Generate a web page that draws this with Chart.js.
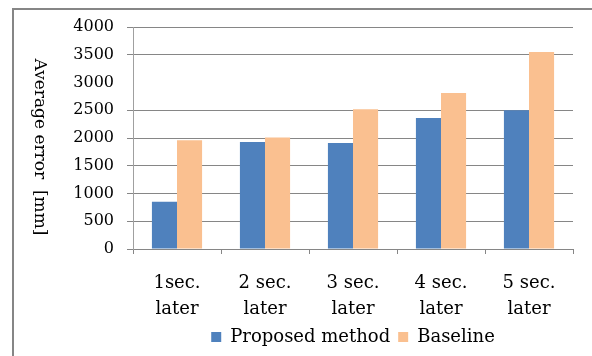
<!DOCTYPE html>
<html>
<head>
<meta charset="utf-8">
<script src="https://cdn.jsdelivr.net/npm/chart.js@4/dist/chart.umd.min.js"></script>
<style>
  html, body { margin: 0; padding: 0; background: #fff; }
  #wrap { width: 592px; height: 356px; }
</style>
</head>
<body>
<div id="wrap"><canvas id="myChart" width="592" height="356"></canvas></div>
<script>
    const categories = [['1sec.', 'later'], ['2 sec.', 'later'], ['3 sec.', 'later'], ['4 sec.', 'later'], ['5 sec.', 'later']];
    const proposed = [850, 1930, 1910, 2360, 2500];
    const baseline = [1960, 2010, 2520, 2810, 3550];
    const yTicks = [0, 500, 1000, 1500, 2000, 2500, 3000, 3500, 4000];
    const hiddenGrid = [3000];

    const serif = 'DejaVu Serif';
    const gridGray = '#868686';

    // frame on top and left, plus the rotated axis title
    const decor = {
        id: 'decor',
        afterDraw: function (chart) {
            const ctx = chart.ctx;
            const area = chart.chartArea;
            ctx.save();
            ctx.strokeStyle = gridGray;
            ctx.lineWidth = 2;
            ctx.beginPath();
            ctx.moveTo(13, 356);
            ctx.lineTo(13, 9);
            ctx.lineTo(592, 9);
            ctx.stroke();

            ctx.translate(39, (area.top + area.bottom) / 2 + 9);
            ctx.rotate(Math.PI / 2);
            ctx.fillStyle = '#000';
            ctx.font = '17px "' + serif + '"';
            ctx.textAlign = 'center';
            ctx.textBaseline = 'middle';
            ctx.fillText('Average error  [mm]', 0, 0);
            ctx.restore();
        }
    };

    const ctx = document.getElementById('myChart').getContext('2d');
    const myChart = new Chart(ctx, {
        type: 'bar',
        data: {
            labels: categories,
            datasets: [{
                label: 'Proposed method',
                data: proposed,
                backgroundColor: '#4F81BD',
                borderWidth: 0
            }, {
                label: 'Baseline',
                data: baseline,
                backgroundColor: '#FAC090',
                borderWidth: 0
            }]
        },
        options: {
            responsive: false,
            animation: false,
            devicePixelRatio: 1,
            layout: {
                padding: { left: 60, right: 19, top: 27, bottom: 0 }
            },
            datasets: {
                bar: { categoryPercentage: 0.57, barPercentage: 1 }
            },
            scales: {
                x: {
                    afterFit: function (scale) { scale.height = 71; },
                    grid: {
                        offset: true,
                        drawOnChartArea: false,
                        drawTicks: true,
                        tickLength: 5,
                        color: gridGray
                    },
                    border: { color: gridGray, width: 1 },
                    ticks: {
                        color: '#000',
                        padding: 16,
                        font: { family: serif, size: 18, lineHeight: 1.45 }
                    }
                },
                y: {
                    min: 0,
                    max: 4000,
                    afterFit: function (scale) { scale.width = 73; },
                    afterBuildTicks: function (scale) {
                        scale.ticks = yTicks.map(function (v) { return { value: v }; });
                    },
                    grid: {
                        tickLength: 6,
                        color: function (c) {
                            return c.tick && hiddenGrid.indexOf(c.tick.value) >= 0 ? 'rgba(0,0,0,0)' : gridGray;
                        }
                    },
                    border: { color: '#a0a0a0', width: 1 },
                    ticks: {
                        color: '#000',
                        padding: 13,
                        font: { family: serif, size: 16 },
                        callback: function (v) { return String(v); }
                    }
                }
            },
            plugins: {
                legend: {
                    position: 'bottom',
                    fullSize: false,
                    labels: {
                        boxWidth: 10,
                        boxHeight: 10,
                        padding: 8,
                        color: '#000',
                        font: { family: serif, size: 18 }
                    }
                },
                tooltip: { enabled: false }
            }
        },
        plugins: [decor]
    });
</script>
</body>
</html>
